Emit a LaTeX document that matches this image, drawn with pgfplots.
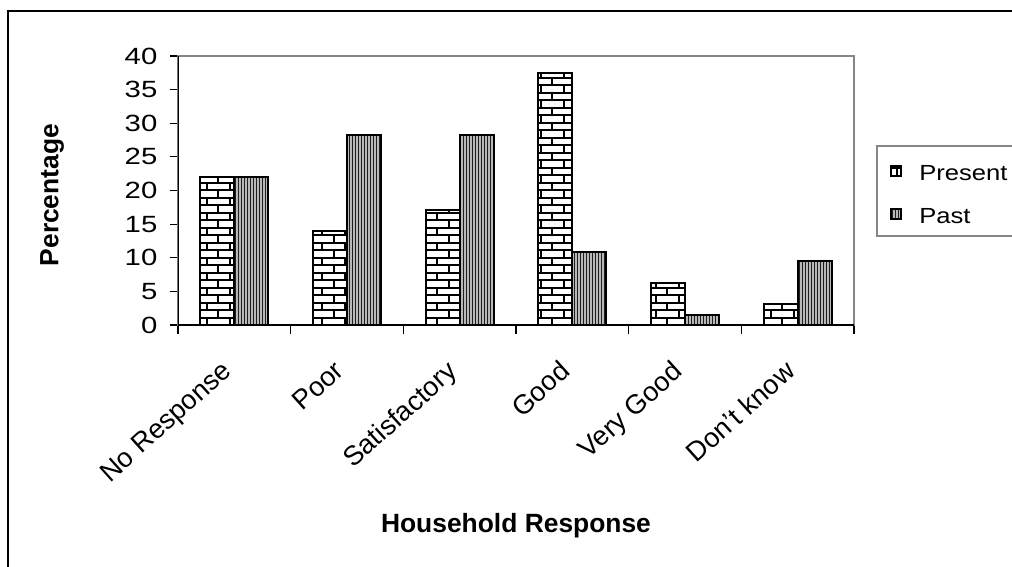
\documentclass[border=0pt]{standalone}
\usepackage{fontspec}
\setmainfont{Liberation Sans}
\newfontfamily\widefont{Liberation Sans}[FakeStretch=1.25]
\newfontfamily\legendfont{Liberation Sans}[FakeStretch=1.17]
\usepackage{pgfplots}
\pgfplotsset{compat=1.18}

\definecolor{framegray}{HTML}{868686}
\definecolor{stripegray}{HTML}{B8B8B8}
\definecolor{stripedark}{HTML}{202020}

\tikzset{
  % white bricks with black mortar, rows 2.8125pt high, bond offset by half a brick
  brickwall/.style={fill=white, path picture={
    \foreach \r in {0,...,38}{
      \draw[path picture={}, fill=none, draw=black, line width=0.75pt, solid]
        ([yshift=\r*2.8125pt]path picture bounding box.south west) --
        ([yshift=\r*2.8125pt]path picture bounding box.south east);
    }
    \foreach \c in {0,...,62}{
      \pgfmathsetmacro\ph{mod(\c,2)*2.8125}
      \draw[path picture={}, fill=none, draw=black, line width=0.75pt,
            dash pattern=on 2.8125pt off 2.8125pt, dash phase=\ph pt]
        ([xshift=2.5pt+\c*4.3125pt]path picture bounding box.south west) -- ++(0pt,110pt);
    }
  }},
  % grey ground with narrow dark vertical stripes
  vstripes/.style={fill=stripegray, path picture={
    \foreach \c in {0,...,230}{
      \draw[path picture={}, fill=none, draw=stripedark, line width=0.42pt, solid]
        ([xshift=0.55pt+\c*1.125pt]path picture bounding box.south west) -- ++(0pt,110pt);
    }
  }},
}

\pgfplotstableread{
idx present past
0   22.0    22.0
1   14.0    28.3
2   17.1    28.3
3   37.5    10.8
4    6.3     1.5
5    3.1     9.5
}\responses

\begin{document}
\begin{tikzpicture}
\useasboundingbox (-66.75pt,121.875pt) rectangle (312.75pt,-90.375pt);
\clip (-66.75pt,121.875pt) rectangle (312.75pt,-90.375pt);

\begin{axis}[
  at={(0pt,0pt)}, anchor=south west,
  scale only axis, width=253.5pt, height=100.875pt,
  ybar=0pt, bar width=12.75pt,
  xmin=-0.5, xmax=5.5, ymin=0, ymax=40,
  ytick={0,5,...,40},
  xtick={0,...,5},
  xticklabels={No Response, Poor, Satisfactory, Good, Very Good, Don’t know},
  minor xtick={-0.5,0.5,...,5.5},
  tick align=outside, xtick pos=bottom, ytick pos=left,
  major tick length=3pt, minor tick length=3.4pt,
  major x tick style={draw=none},
  tick style={black, line width=0.45pt},
  axis line style={draw=framegray, line width=0.55pt},
  /pgf/number format/assume math mode=true,
  yticklabel={\widefont\fontsize{8.8}{10}\selectfont\pgfmathprintnumber{\tick}},
  yticklabel style={xshift=-1.2pt},
  xticklabel style={font=\fontsize{10.2}{12}\selectfont, inner sep=0pt,
                    xshift=-5.25pt, yshift=-9.5pt, rotate=42, anchor=north east},
  xlabel={Household Response},
  xlabel style={font=\bfseries\fontsize{9.9}{12}\selectfont,
                at={(axis description cs:0.5,-0.7695)}, anchor=base},
  ylabel={Percentage},
  ylabel style={font=\bfseries\fontsize{9.9}{12}\selectfont,
                at={(axis description cs:-0.1864,0.483)}, anchor=center},
  legend style={at={(axis description cs:1.052,0.5985)}, anchor=north west,
                draw=none, fill=none, inner sep=0pt, row sep=8.8pt,
                font=\legendfont\fontsize{8.2}{10}\selectfont,
                nodes={inner sep=0pt}},
  legend cell align=left,
  legend image code/.code={\draw[#1] (0pt,-0.3pt) rectangle (3.75pt,3.45pt);},
  /tikz/every odd column/.style={column sep=6.6pt},
]
\addplot[draw=black, line width=0.75pt, brickwall] table[x=idx, y=present] {\responses};
\addplot[draw=black, line width=0.75pt, vstripes] table[x=idx, y=past] {\responses};
\legend{Present, Past}
\draw[black, line width=0.5pt] (rel axis cs:0,1) -- (rel axis cs:0,0) -- (rel axis cs:1,0);
\end{axis}

% outer chart frame and legend box, in pixel units of the canvas
\begin{scope}[x=0.375pt, y=-0.375pt, shift={(-178,-325)}]
  \draw[black, line width=0.75pt] (8,620) -- (8,11) -- (1100,11);
  \draw[framegray, line width=0.55pt] (877,146) rectangle (1080,236);
\end{scope}
\end{tikzpicture}
\end{document}
